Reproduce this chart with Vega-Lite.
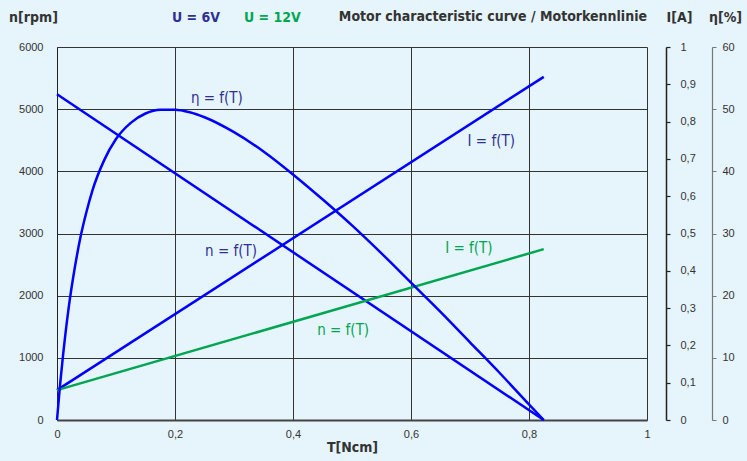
{
  "$schema": "https://vega.github.io/schema/vega-lite/v6.json",
  "width": 590,
  "height": 373,
  "autosize": "none",
  "padding": {"left": 57, "top": 47, "right": 100, "bottom": 41},
  "background": "#e6f4fb",
  "config": {
    "view": {"stroke": null, "fill": "#e6f4fb"},
    "font": "Liberation Sans",
    "axis": {"labelFont": "Liberation Sans", "labelFontSize": 11, "labelColor": "#333333", "titleFont": "DejaVu Sans Condensed, Liberation Sans Narrow, Roboto", "titleFontWeight": "bold", "titleFontSize": 14, "titleColor": "#333333"}
  },
  "datasets": {
    "curves": [
      {"U": "U = 6V", "qty": "n", "T": 0, "v": 5240},
      {"U": "U = 6V", "qty": "n", "T": 0.825, "v": 0},
      {"U": "U = 6V", "qty": "I", "T": 0, "v": 0.08},
      {"U": "U = 6V", "qty": "I", "T": 0.825, "v": 0.92},
      {"U": "U = 12V", "qty": "I", "T": 0, "v": 0.08},
      {"U": "U = 12V", "qty": "I", "T": 0.825, "v": 0.458},
      {"U": "U = 6V", "qty": "eta", "T": 0, "v": 0},
      {"U": "U = 6V", "qty": "eta", "T": 0.005, "v": 5.5},
      {"U": "U = 6V", "qty": "eta", "T": 0.01, "v": 10.2},
      {"U": "U = 6V", "qty": "eta", "T": 0.02, "v": 18.2},
      {"U": "U = 6V", "qty": "eta", "T": 0.03, "v": 24.4},
      {"U": "U = 6V", "qty": "eta", "T": 0.04, "v": 29.5},
      {"U": "U = 6V", "qty": "eta", "T": 0.05, "v": 33.5},
      {"U": "U = 6V", "qty": "eta", "T": 0.06, "v": 36.9},
      {"U": "U = 6V", "qty": "eta", "T": 0.08, "v": 41.8},
      {"U": "U = 6V", "qty": "eta", "T": 0.1, "v": 45.2},
      {"U": "U = 6V", "qty": "eta", "T": 0.125, "v": 47.8},
      {"U": "U = 6V", "qty": "eta", "T": 0.15, "v": 49.3},
      {"U": "U = 6V", "qty": "eta", "T": 0.175, "v": 49.9},
      {"U": "U = 6V", "qty": "eta", "T": 0.2, "v": 49.9},
      {"U": "U = 6V", "qty": "eta", "T": 0.225, "v": 49.5},
      {"U": "U = 6V", "qty": "eta", "T": 0.25, "v": 48.7},
      {"U": "U = 6V", "qty": "eta", "T": 0.3, "v": 46.3},
      {"U": "U = 6V", "qty": "eta", "T": 0.35, "v": 43.2},
      {"U": "U = 6V", "qty": "eta", "T": 0.4, "v": 39.5},
      {"U": "U = 6V", "qty": "eta", "T": 0.45, "v": 35.5},
      {"U": "U = 6V", "qty": "eta", "T": 0.5, "v": 31.3},
      {"U": "U = 6V", "qty": "eta", "T": 0.55, "v": 26.8},
      {"U": "U = 6V", "qty": "eta", "T": 0.6, "v": 22.1},
      {"U": "U = 6V", "qty": "eta", "T": 0.65, "v": 17.4},
      {"U": "U = 6V", "qty": "eta", "T": 0.7, "v": 12.5},
      {"U": "U = 6V", "qty": "eta", "T": 0.75, "v": 7.6},
      {"U": "U = 6V", "qty": "eta", "T": 0.8, "v": 2.5},
      {"U": "U = 6V", "qty": "eta", "T": 0.825, "v": 0}
    ],
    "labels": [
      {"text": "η = f(T)", "U": "U = 6V", "T": 0.271, "v": 5180},
      {"text": "I = f(T)", "U": "U = 6V", "T": 0.736, "v": 4488},
      {"text": "n = f(T)", "U": "U = 6V", "T": 0.295, "v": 2718},
      {"text": "I = f(T)", "U": "U = 12V", "T": 0.698, "v": 2767},
      {"text": "n = f(T)", "U": "U = 12V", "T": 0.485, "v": 1448}
    ]
  },
  "data": {"name": "curves"},
  "layer": [
    {
      "layer": [
        {
          "transform": [{"filter": "datum.qty === 'n'"}],
          "mark": {"type": "line", "strokeWidth": 2.5},
          "encoding": {
            "x": {"field": "T", "type": "quantitative", "scale": {"domain": [0, 1]},
              "axis": {"values": [0, 0.2, 0.4, 0.6, 0.8, 1], "grid": true, "gridColor": "#333333", "gridOpacity": 1, "gridWidth": 1, "ticks": false, "domainColor": "#444444", "domainWidth": 2, "labelPadding": 8, "labelFlush": false, "labelExpr": "replace(format(datum.value, '~g'), '.', ',')", "title": "T[Ncm]", "titlePadding": 1}},
            "y": {"field": "v", "type": "quantitative", "scale": {"domain": [0, 6000]},
              "axis": {"values": [0, 1000, 2000, 3000, 4000, 5000, 6000], "grid": true, "gridColor": "#333333", "gridOpacity": 1, "gridWidth": 1, "ticks": false, "domainColor": "#222222", "domainWidth": 1, "labelPadding": 14, "format": "d", "title": "n[rpm]", "titleAngle": 0, "titleX": -24, "titleY": -30, "titleAlign": "center", "titleBaseline": "middle"}},
            "color": {"field": "U", "type": "nominal",
              "scale": {"domain": ["U = 6V", "U = 12V"], "range": ["#0000ff", "#00a651"]},
              "legend": {"orient": "none", "legendX": 101, "legendY": -36, "direction": "horizontal", "title": null, "symbolOpacity": 0, "symbolSize": 0, "symbolStrokeWidth": 0, "labelOffset": 0, "columnPadding": 9, "labelFont": "DejaVu Sans Condensed, Liberation Sans Narrow, Roboto", "labelFontSize": 14, "labelFontWeight": "bold",
                "encode": {"labels": {"update": {"fill": {"signal": "datum.value === 'U = 6V' ? '#2e3192' : '#00a651'"}}}}}}
          }
        },
        {
          "data": {"name": "labels"},
          "mark": {"type": "text", "font": "DejaVu Sans Condensed, Liberation Sans Narrow, Roboto", "fontSize": 15, "align": "center", "baseline": "middle"},
          "encoding": {
            "x": {"field": "T", "type": "quantitative", "scale": {"domain": [0, 1]}},
            "y": {"field": "v", "type": "quantitative", "scale": {"domain": [0, 6000]}},
            "text": {"field": "text"},
            "color": {"condition": {"test": "datum.U === 'U = 6V'", "value": "#2e3192"}, "value": "#00a651"}
          }
        },
        {
          "data": {"values": [{}]},
          "mark": {"type": "text", "font": "DejaVu Sans Condensed, Liberation Sans Narrow, Roboto", "fontSize": 14, "fontWeight": "bold", "align": "right", "baseline": "middle", "color": "#333333"},
          "encoding": {
            "x": {"datum": 1, "type": "quantitative", "scale": {"domain": [0, 1]}},
            "y": {"datum": 6480, "type": "quantitative", "scale": {"domain": [0, 6000]}},
            "text": {"value": "Motor characteristic curve / Motorkennlinie"}
          }
        }
      ]
    },
    {
      "transform": [{"filter": "datum.qty === 'I'"}],
      "mark": {"type": "line", "strokeWidth": 2.5},
      "encoding": {
        "x": {"field": "T", "type": "quantitative", "scale": {"domain": [0, 1]}},
        "y": {"field": "v", "type": "quantitative", "scale": {"domain": [0, 1]},
          "axis": {"orient": "right", "offset": 19, "values": [0, 0.1, 0.2, 0.3, 0.4, 0.5, 0.6, 0.7, 0.8, 0.9, 1], "grid": false, "domainColor": "#222222", "domainWidth": 1.5, "tickColor": "#222222", "tickSize": 4, "tickWidth": 1.2, "labelPadding": 10, "labelExpr": "replace(format(datum.value, '~g'), '.', ',')", "title": "I[A]", "titleAngle": 0, "titleX": 13, "titleY": -30, "titleAlign": "center", "titleBaseline": "middle",
            "encode": {"ticks": {"update": {"x": {"value": -4}, "x2": {"value": 4}}}}}},
        "color": {"field": "U", "type": "nominal"}
      }
    },
    {
      "transform": [{"filter": "datum.qty === 'eta'"}],
      "mark": {"type": "line", "strokeWidth": 2.5, "interpolate": "monotone"},
      "encoding": {
        "x": {"field": "T", "type": "quantitative", "scale": {"domain": [0, 1]}},
        "y": {"field": "v", "type": "quantitative", "scale": {"domain": [0, 60]},
          "axis": {"orient": "right", "offset": 65, "values": [0, 10, 20, 30, 40, 50, 60], "grid": false, "domainColor": "#777777", "domainWidth": 1.2, "tickColor": "#777777", "tickSize": 4, "labelPadding": 6, "title": "η[%]", "titleAngle": 0, "titleX": 13, "titleY": -30, "titleAlign": "center", "titleBaseline": "middle"}},
        "color": {"field": "U", "type": "nominal"}
      }
    }
  ],
  "resolve": {"scale": {"y": "independent"}, "axis": {"y": "independent"}}
}
